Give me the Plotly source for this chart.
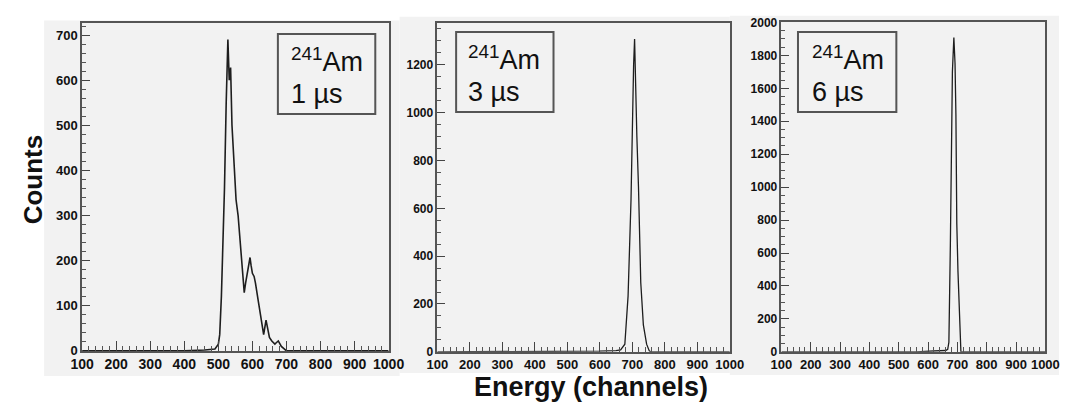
import plotly.graph_objects as go

# ---------------- data ----------------
ch_1us = [100, 400, 460, 490, 500, 504, 509, 514, 518, 523, 528, 532, 536, 540, 546,
          552, 558, 566, 576, 580, 586, 593, 596, 600, 605, 609, 618, 626, 633, 640,
          645, 650, 657, 666, 670, 676, 685, 695, 700, 1000]
counts_1us = [0, 0, 2, 4, 15, 36, 122, 229, 360, 549, 690, 600, 628, 500, 410,
              335, 300, 229, 129, 150, 180, 207, 190, 172, 165, 150, 107, 70, 36, 68,
              45, 30, 22, 15, 18, 22, 10, 4, 0, 0]

ch_3us = [100, 540, 600, 650, 664, 677, 687, 696, 701, 704, 707, 710, 714, 719, 726,
          734, 744, 752, 756, 1000]
counts_3us = [0, 0, 3, 5, 8, 32, 234, 636, 1039, 1200, 1308, 1070, 900, 690, 290,
              113, 32, 5, 0, 0]

ch_6us = [100, 560, 620, 660, 667, 671, 676, 679, 683, 688, 692, 695, 698, 702, 709,
          712, 1000]
counts_6us = [0, 0, 5, 8, 15, 58, 642, 1324, 1700, 1908, 1750, 1440, 779, 487, 60,
              0, 0]

panel_labels = ["1 µs", "3 µs", "6 µs"]
isotope = "<sup>241</sup>Am"
x_title = "Energy (channels)"
y_title = "Counts"
x_range = [100, 1000]
y_ranges = [[0, 726], [0, 1373], [0, 2000]]
y_dticks = [100, 200, 200]
y_minor = [20, 50, 50]

# ---------------- layout helpers ----------------
W, H = 1075, 408


def fx(x):
    return x / W


def fy(y):
    return 1 - y / H


BG = "#f2f2f2"
FRAME = "#555555"
FONT = "Liberation Sans, Arial, sans-serif"

fig = go.Figure()
series = [(ch_1us, counts_1us), (ch_3us, counts_3us), (ch_6us, counts_6us)]
widths = [1.6, 1.3, 1.3]
for i, (xs, ys) in enumerate(series):
    sfx = "" if i == 0 else str(i + 1)
    fig.add_trace(go.Scatter(x=xs, y=ys, mode="lines",
                             line=dict(color="#1e1e1e", width=widths[i]),
                             xaxis="x" + sfx, yaxis="y" + sfx,
                             showlegend=False, hoverinfo="skip"))

x_domains = [[72, 386.7], [436.7, 737], [790, 1061]]
y_domains = [[357, 17], [358, 17], [358, 16]]
xfont = [14, 13, 13]
yfont = [13, 12, 12]

layout = dict(width=W, height=H, margin=dict(l=0, r=0, t=0, b=0),
              paper_bgcolor="white", plot_bgcolor=BG, showlegend=False)

for i in range(3):
    sfx = "" if i == 0 else str(i + 1)
    common = dict(showline=True, linecolor=FRAME, linewidth=1.5, mirror=True,
                  ticks="inside", tickcolor="#444", tickwidth=1,
                  showgrid=False, zeroline=False, fixedrange=True)
    layout["xaxis" + sfx] = dict(
        common, domain=[fx(x_domains[i][0]), fx(x_domains[i][1])],
        range=x_range, anchor="y" + sfx, tick0=100, dtick=100, ticklen=10,
        tickfont=dict(family=FONT, size=xfont[i], color="#111", weight="bold"),
        minor=dict(ticks="inside", ticklen=5, dtick=20, tickcolor="#555", showgrid=False))
    layout["yaxis" + sfx] = dict(
        common, domain=[fy(y_domains[i][0]), fy(y_domains[i][1])],
        range=y_ranges[i], anchor="x" + sfx, tick0=0, dtick=y_dticks[i], ticklen=8,
        tickfont=dict(family=FONT, size=yfont[i], color="#111", weight="bold"),
        minor=dict(ticks="inside", ticklen=4, dtick=y_minor[i], tickcolor="#555", showgrid=False))

fig.update_layout(**layout)

# pad backgrounds
pads = [(33, 14, 398, 383), (398, 10, 737, 380), (737, 9, 1075, 382)]
shapes = []
for (x0, y0, x1, y1) in pads:
    shapes.append(dict(type="rect", xref="paper", yref="paper",
                       x0=fx(x0), x1=fx(x1), y0=fy(y1), y1=fy(y0),
                       fillcolor=BG, line=dict(width=0), layer="below"))

# label boxes
boxes = [(273, 28, 373, 111), (456, 26, 556, 109), (807, 26, 908, 109)]
text_x = [284, 466, 819]
annotations = []
for i, (x0, y0, x1, y1) in enumerate(boxes):
    shapes.append(dict(type="rect", xref="paper", yref="paper",
                       x0=fx(x0), x1=fx(x1), y0=fy(y1), y1=fy(y0),
                       fillcolor=BG, line=dict(color=FRAME, width=2), layer="above"))
    annotations.append(dict(x=fx(text_x[i]), y=fy(y0 + 27), xref="paper", yref="paper",
                            text=isotope, showarrow=False, xanchor="left", yanchor="middle",
                            font=dict(family=FONT, size=27, color="#111")))
    annotations.append(dict(x=fx(text_x[i]), y=fy(y0 + 62), xref="paper", yref="paper",
                            text=panel_labels[i], showarrow=False, xanchor="left",
                            yanchor="middle",
                            font=dict(family=FONT, size=27, color="#111")))

annotations.append(dict(x=fx(22.5), y=fy(179), xref="paper", yref="paper", text=y_title,
                        textangle=-90, showarrow=False, xanchor="center", yanchor="middle",
                        font=dict(family=FONT, size=26, color="#111", weight="bold")))
annotations.append(dict(x=fx(594), y=fy(395), xref="paper", yref="paper", text=x_title,
                        showarrow=False, xanchor="center", yanchor="middle",
                        font=dict(family=FONT, size=27, color="#111", weight="bold")))

fig.update_layout(shapes=shapes, annotations=annotations)

fig.write_html("out.html")
